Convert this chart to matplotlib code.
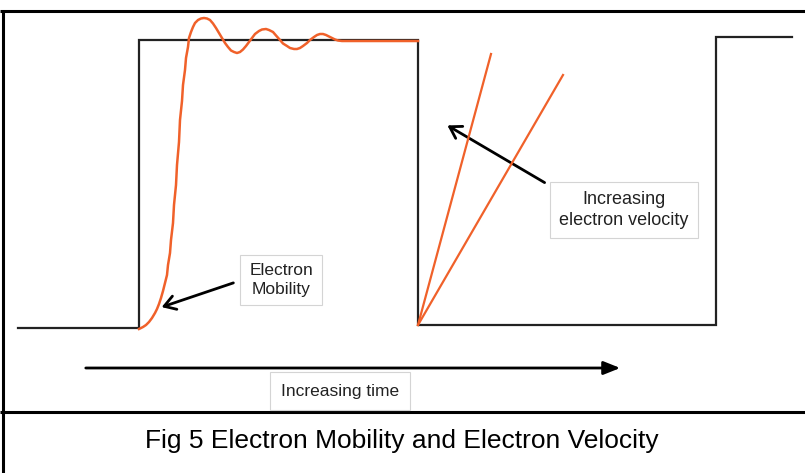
import matplotlib.pyplot as plt
from matplotlib.patches import FancyArrowPatch

plt.rcParams['font.family'] = ['Liberation Sans', 'DejaVu Sans']

# square drive waveform (x = time, y = level, picture units)
square_x = [18, 139, 139, 418, 418, 716, 716, 792]
square_y = [328, 328, 40, 40, 325, 325, 37, 37]

# electron mobility response
resp_x = [139, 143, 146, 149, 152, 155, 157, 159, 161, 163, 165, 167, 168, 170,
          171, 173, 174, 176, 177, 179, 180, 182, 183, 185, 186, 188, 189, 191,
          193, 195, 198, 201, 204, 207, 210, 213, 216, 219, 222, 225, 228, 231,
          234, 237, 240, 243, 246, 249, 252, 255, 259, 262, 266, 269, 273, 276,
          280, 283, 287, 290, 294, 297, 300, 303, 307, 310, 314, 317, 320, 323,
          326, 329, 332, 335, 338, 342, 345, 418]
resp_y = [329, 327, 325, 322, 318, 313, 309, 304, 298, 291, 283, 275, 265, 253,
          240, 223, 205, 185, 165, 142, 120, 101, 85, 70, 58, 47, 38, 32,
          27, 23, 20, 18.5, 18, 18.5, 20, 23.5, 28, 33, 38, 43, 47, 50.5,
          52, 53, 52, 49.5, 46, 42, 38, 34, 31, 29.5, 29, 30, 32, 35.5,
          40, 43.5, 46, 48, 49, 49, 48, 46, 43, 40, 37, 35, 34, 34,
          35, 36.5, 38, 39.5, 40.5, 41, 41, 41]

# electron velocity ramps
ramp_start = (418, 325)
ramp_ends = [(491, 54), (563, 75)]

orange = '#F0612A'

fig = plt.figure(figsize=(8.05, 4.73), dpi=100)
ax = fig.add_axes([0, 0, 1, 1])
ax.set_xlim(0, 805)
ax.set_ylim(473, 0)
ax.axis('off')

# frame
ax.plot([0, 805], [11, 11], color='black', lw=2.2, solid_capstyle='butt')
ax.plot([0, 805], [412, 412], color='black', lw=2.2, solid_capstyle='butt')
ax.plot([3, 3], [11, 473], color='black', lw=2.2, solid_capstyle='butt')

ax.plot(square_x, square_y, color='#222222', lw=1.6, solid_joinstyle='miter')
ax.plot(resp_x, resp_y, color=orange, lw=1.8)
for ex, ey in ramp_ends:
    ax.plot([ramp_start[0], ex], [ramp_start[1], ey], color=orange, lw=1.6)

box = dict(boxstyle='square,pad=0.5', fc='white', ec='#d4d4d4', lw=0.8)

ax.text(281, 280, 'Electron\nMobility', ha='center', va='center', fontsize=12.5,
        color='#222222', bbox=box, linespacing=1.3)
ax.text(624, 210, 'Increasing\nelectron velocity', ha='center', va='center',
        fontsize=13, color='#222222', bbox=box, linespacing=1.3)
ax.text(340, 391, 'Increasing time', ha='center', va='center', fontsize=12.5,
        color='#222222', bbox=dict(boxstyle='square,pad=0.65', fc='white',
                                   ec='#d4d4d4', lw=0.8))

# arrows
ax.add_patch(FancyArrowPatch((236, 282), (159, 308), arrowstyle='->,head_length=8,head_width=5',
                             color='black', lw=2, mutation_scale=1))
ax.add_patch(FancyArrowPatch((547, 184), (445, 124), arrowstyle='->,head_length=8,head_width=5',
                             color='black', lw=2, mutation_scale=1))
ax.add_patch(FancyArrowPatch((83, 368), (623, 368), arrowstyle='-|>,head_length=10,head_width=4',
                             color='black', lw=2, mutation_scale=1))

ax.text(402, 441, 'Fig 5 Electron Mobility and Electron Velocity', ha='center',
        va='center', fontsize=19, color='black')

fig.savefig('out.png', dpi=100, facecolor='white')
